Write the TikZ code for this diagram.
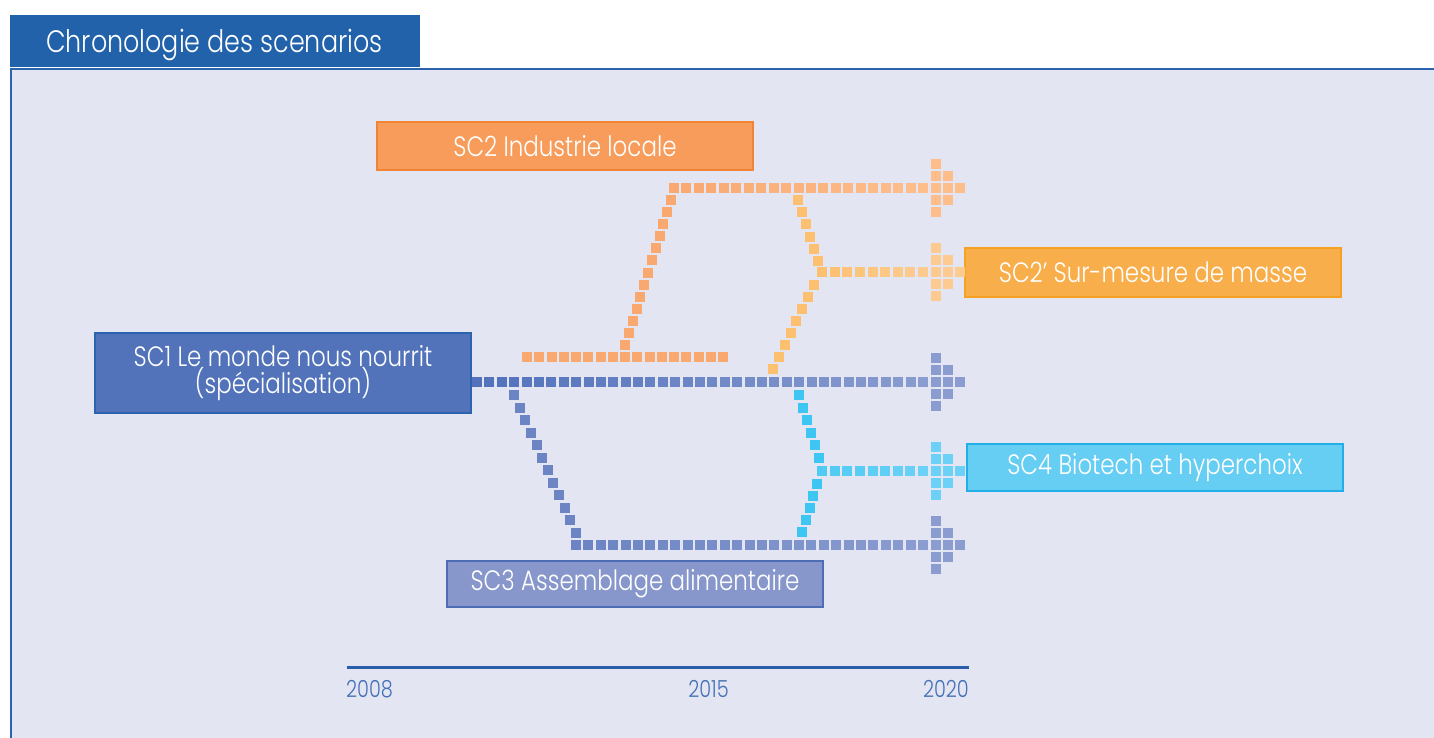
\documentclass[tikz,border=0pt]{standalone}
\usepackage{fontspec}
\setmainfont{Poppins Light}[FakeStretch=0.82]
\definecolor{panelbg}{HTML}{E3E5F2}
\definecolor{framebl}{HTML}{2A64AE}
\definecolor{tabbl}{HTML}{2262AB}
\definecolor{axisbl}{HTML}{2A5EAA}
\definecolor{yearbl}{HTML}{4470B6}
% box fills and borders
\definecolor{sctwoF}{HTML}{F79C5A}\definecolor{sctwoD}{HTML}{F08434}
\definecolor{sctwopF}{HTML}{F9AE4C}\definecolor{sctwopD}{HTML}{F7A124}
\definecolor{sconeF}{HTML}{5273BA}\definecolor{sconeD}{HTML}{2B63AE}
\definecolor{scthreeF}{HTML}{8897CB}\definecolor{scthreeD}{HTML}{4F6DB5}
\definecolor{scfourF}{HTML}{66CDF3}\definecolor{scfourD}{HTML}{22AEE8}
% square trail colours
\definecolor{bluA}{HTML}{5272BC}\definecolor{bluB}{HTML}{8A9CD0}
\definecolor{bluC}{HTML}{6C84C4}
\definecolor{cyaA}{HTML}{3EC6F2}\definecolor{cyaB}{HTML}{50CBF4}\definecolor{cyaC}{HTML}{6CD1F6}
\definecolor{orA}{HTML}{F9A870}\definecolor{orB}{HTML}{FDBE8C}
\definecolor{yeA}{HTML}{FDC070}\definecolor{yeB}{HTML}{FDCB90}

% a straight trail of n+1 squares from (x1,y1) to (x2,y2), colour fading from A to B
\newcommand\sqline[7]{%
  \foreach \i in {0,...,#5}{%
    \pgfmathsetmacro\tx{#1+(#3-#1)*\i/#5}%
    \pgfmathsetmacro\ty{#2+(#4-#2)*\i/#5}%
    \pgfmathtruncatemacro\tp{100*\i/#5}%
    \fill[#7!\tp!#6] (\tx-5,\ty-5) rectangle ++(10,10);
  }}
% arrow tip made of squares, column at x
\newcommand\sqhead[3]{%
  \foreach \dx/\dy in {0/-24,0/-12,0/0,0/12,0/24,12/-12,12/0,12/12,24/0}{%
    \fill[#3] (#1+\dx-5,#2+\dy-5) rectangle ++(10,10);
  }}

\tikzset{
  scbox/.style={draw, line width=2.4pt, minimum width=376pt, inner sep=0pt,
    text=white, align=center, font=\fontsize{28}{30}\selectfont},
  year/.style={text=yearbl, inner sep=0pt, font=\fontsize{23.5}{25}\selectfont}
}

\begin{document}
\begin{tikzpicture}[x=1pt,y=-1pt]
\useasboundingbox (0,0) rectangle (1434,738);
\fill[white] (0,0) rectangle (1434,738);

% panel and title tab
\fill[panelbg] (11,69) rectangle (1434,738);
\draw[framebl, line width=2.2pt] (11,738) -- (11,69) -- (1434,69);
\fill[tabbl] (10,15) rectangle (420,67.5);
\node[anchor=base west, inner sep=0pt, text=white, font=\fontsize{31}{33}\selectfont] (title) at (46,53) {Chronologie des scenarios};

% scenario boxes
\node[scbox, fill=sctwoF, draw=sctwoD, minimum height=48pt] (sc2) at (565,146) {SC2 Industrie locale};
\node[scbox, fill=sctwopF, draw=sctwopD, minimum height=49pt] (sc2p) at (1153,272.5) {SC2\char"2019\ Sur-mesure de masse};
\node[scbox, fill=sconeF, draw=sconeD, minimum height=80pt, font=\fontsize{28}{26}\selectfont] (sc1) at (283,373) {SC1 Le monde nous nourrit\\(spécialisation)};
\node[scbox, fill=scthreeF, draw=scthreeD, minimum height=46pt] (sc3) at (635,584) {SC3 Assemblage alimentaire};
\node[scbox, fill=scfourF, draw=scfourD, minimum height=47pt] (sc4) at (1155,467.5) {SC4 Biotech et hyperchoix};

% SC1 trail
\sqline{477}{382}{923}{382}{36}{bluA}{bluB}
\sqhead{936}{382}{bluB}

% SC3 branch
\sqline{514}{395}{576}{533}{11}{bluC}{bluC}
\sqline{576}{545}{923}{545}{28}{bluC}{bluB}
\sqhead{936}{545}{bluB}

% SC4 merge
\sqline{799}{395}{819}{458}{5}{cyaA}{cyaA}
\sqline{802}{532}{817}{484}{4}{cyaA}{cyaA}
\sqline{822}{471}{923}{471}{8}{cyaB}{cyaC}
\sqhead{936}{471}{cyaC}

% SC2 branch
\sqline{527}{357}{723}{357}{16}{orA}{orA}
\sqline{625}{345}{671}{200}{12}{orA}{orA}
\sqline{674}{188}{923}{188}{20}{orA}{orB}
\sqhead{936}{188}{orB}

% SC2' merge
\sqline{798}{200}{818}{261}{5}{yeA}{yeA}
\sqline{814}{285}{773}{369}{7}{yeA}{yeA}
\sqline{822}{272}{923}{272}{8}{yeA}{yeB}
\sqhead{936}{272}{yeB}

% time axis
\draw[axisbl, line width=3pt] (347,667) coordinate (axL) -- (969,667) coordinate (axR);
\node[year, anchor=base west] (y2008) at (346,697) {2008};
\node[year, anchor=base] (y2015) at (708.5,697) {2015};
\node[year, anchor=base east] (y2020) at (969,697) {2020};
\end{tikzpicture}
\end{document}
